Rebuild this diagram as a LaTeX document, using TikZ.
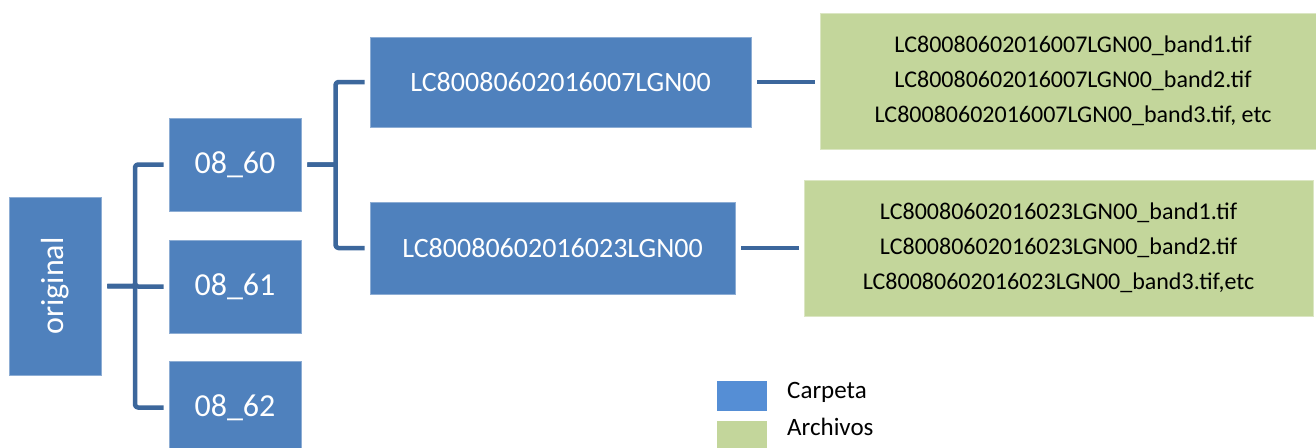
\documentclass[tikz,border=0pt]{standalone}
\usepackage{fontspec}
\setmainfont{Carlito}
\usetikzlibrary{calc}

\definecolor{folderblue}{HTML}{4F81BD}
\definecolor{legendblue}{HTML}{558ED5}
\definecolor{filegreen}{HTML}{C3D69B}
\definecolor{linkblue}{HTML}{3C679C}

\tikzset{
  folder/.style={fill=folderblue, draw=white!35!folderblue, line width=0.8pt,
    inner sep=0pt, text=white, font=\fontsize{32}{38}\selectfont},
  subfolder/.style={folder, font=\fontsize{28}{34}\selectfont},
  files/.style={fill=filegreen, draw=white!40!filegreen, line width=0.8pt,
    inner sep=0pt, text=black, align=center, font=\fontsize{24}{35}\selectfont},
  link/.style={draw=linkblue, line width=4.5pt, line join=round,
    shorten <=6pt, shorten >=5pt},
  swatch/.style={inner sep=0pt, minimum width=50pt},
  legendtext/.style={inner sep=0pt, anchor=base west, font=\fontsize{25}{30}\selectfont}
}

\begin{document}
\begin{tikzpicture}[x=1pt, y=-1pt]
  \clip (0,0) rectangle (1316,447);
  \fill[white] (0,0) rectangle (1316,447);

  % root folder
  \node[folder, minimum width=92pt, minimum height=178pt] (orig) at (55,286)
    {\rotatebox{90}{original}};

  % path/row folders
  \node[folder, minimum width=132pt, minimum height=93pt] (c60) at (235,164.5) {08\_60};
  \node[folder, minimum width=132pt, minimum height=93pt] (c61) at (235,286.5) {08\_61};
  \node[folder, minimum width=132pt, minimum height=93pt] (c62) at (235,407.5) {08\_62};

  % scene folders
  \node[subfolder, minimum width=381pt, minimum height=90pt] (lc7) at (560.5,82)
    {LC80080602016007LGN00};
  \node[subfolder, minimum width=365pt, minimum height=92pt] (lc23) at (552.5,248)
    {LC80080602016023LGN00};

  % band files
  \node[files, minimum width=506pt, minimum height=136pt] (g1) at (1073,81)
    {LC80080602016007LGN00\_band1.tif\\
     LC80080602016007LGN00\_band2.tif\\
     LC80080602016007LGN00\_band3.tif, etc};
  \node[files, minimum width=509pt, minimum height=136pt] (g2) at (1058.5,248)
    {LC80080602016023LGN00\_band1.tif\\
     LC80080602016023LGN00\_band2.tif\\
     LC80080602016023LGN00\_band3.tif,etc};

  % bracket spines, halfway between parent and children
  \coordinate (j1) at ($(orig.east)!.5!(c61.west)$);
  \coordinate (j2) at ($(c60.east)!.5!(lc7.west)$);

  % elbow connectors
  \foreach \c in {c60,c61,c62}
    \draw[link] (orig.east) -- (j1 |- orig.east) [rounded corners=3pt] |- (\c.west);
  \foreach \c in {lc7,lc23}
    \draw[link] (c60.east) -- (j2 |- c60.east) [rounded corners=3pt] |- (\c.west);
  \draw[link] (lc7.east) -- (lc7.east -| g1.west);
  \draw[link] (lc23.east) -- (lc23.east -| g2.west);

  % legend
  \node[swatch, fill=legendblue, minimum height=30pt] (kfold) at (742,396) {};
  \node[swatch, fill=filegreen, minimum height=30pt] (kfile) at (742,436) {};
  \node[legendtext] (tfold) at (787,398) {Carpeta};
  \node[legendtext] (tfile) at (787,435) {Archivos};
\end{tikzpicture}
\end{document}
